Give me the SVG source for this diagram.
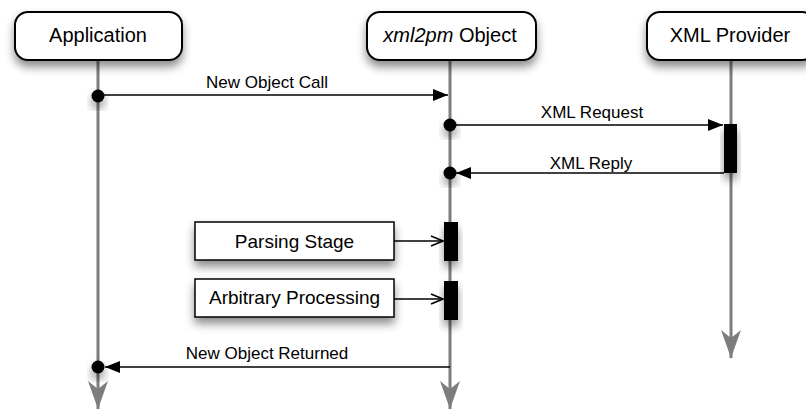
<svg xmlns="http://www.w3.org/2000/svg" width="806" height="410" viewBox="0 0 806 410">
<defs>
<filter id="sh" x="-30%" y="-40%" width="160%" height="200%">
<feDropShadow dx="0" dy="6" stdDeviation="5" flood-color="#000" flood-opacity="0.45"/>
</filter>
<marker id="fa" markerUnits="userSpaceOnUse" markerWidth="16" markerHeight="12" refX="15" refY="6" orient="auto">
<path d="M0,0 L15,6 L0,12 z" fill="#000"/>
</marker>
<marker id="oa" markerUnits="userSpaceOnUse" markerWidth="14" markerHeight="12" refX="13" refY="6" orient="auto">
<path d="M1,1 L13,6 L1,11" fill="none" stroke="#000" stroke-width="1.5"/>
</marker>
<marker id="la" markerUnits="userSpaceOnUse" markerWidth="29" markerHeight="22" refX="28" refY="11" orient="auto">
<path d="M0,1 L8,11 L0,21 L28,11 z" fill="#7d7d7d"/>
</marker>
</defs>
<style>
.hdr{fill:#fff;stroke:#000;stroke-width:2}
.box{fill:#fff;stroke:#000;stroke-width:1.5}
.life{stroke:#7d7d7d;stroke-width:3;fill:none}
.msg{stroke:#000;stroke-width:1.5;fill:none}
.t{font-family:"Liberation Sans",Arial,sans-serif;fill:#000;text-anchor:middle}
.h{font-size:20px}
.m{font-size:17px}
.b{font-size:19px}
.bar{fill:#000}
.dot{fill:#000}
</style>
<g id="lifelines">
<line class="life" x1="98" y1="60" x2="98" y2="409" marker-end="url(#la)"/>
<line class="life" x1="450" y1="60" x2="450" y2="409" marker-end="url(#la)"/>
<line class="life" x1="731" y1="60" x2="731" y2="358" marker-end="url(#la)"/>
</g>
<g id="application">
<rect class="hdr" x="15" y="12" width="167" height="48" rx="13" filter="url(#sh)"/>
<text class="t h" x="98" y="42">Application</text>
</g>
<g id="xml2pm">
<rect class="hdr" x="367" y="12" width="169" height="48" rx="13" filter="url(#sh)"/>
<text class="t h" x="450" y="42"><tspan font-style="italic">xml2pm</tspan> Object</text>
</g>
<g id="xmlprovider">
<rect class="hdr" x="647" y="12" width="168" height="48" rx="13" filter="url(#sh)"/>
<text class="t h" x="730" y="42">XML Provider</text>
</g>
<g id="parsing">
<rect class="box" x="195" y="222" width="199" height="38" filter="url(#sh)"/>
<text class="t b" x="294.5" y="248">Parsing Stage</text>
</g>
<g id="arbitrary">
<rect class="box" x="195" y="279" width="199" height="38" filter="url(#sh)"/>
<text class="t b" x="294.5" y="304">Arbitrary Processing</text>
</g>
<g id="activations">
<rect class="bar" x="724" y="124" width="13" height="49" filter="url(#sh)"/>
<rect class="bar" x="444" y="222" width="14" height="39" filter="url(#sh)"/>
<rect class="bar" x="444" y="281" width="14" height="39" filter="url(#sh)"/>
</g>
<g id="connectors">
<line class="msg" x1="98" y1="95" x2="448" y2="95" marker-end="url(#fa)"/>
<text class="t m" x="267" y="88">New Object Call</text>
<line class="msg" x1="450" y1="125" x2="723" y2="125" marker-end="url(#fa)"/>
<text class="t m" x="592" y="118">XML Request</text>
<line class="msg" x1="724" y1="173" x2="456" y2="173" marker-end="url(#fa)"/>
<text class="t m" x="591" y="169">XML Reply</text>
<line class="msg" x1="394" y1="241" x2="443" y2="241" marker-end="url(#oa)"/>
<line class="msg" x1="394" y1="299" x2="443" y2="299" marker-end="url(#oa)"/>
<line class="msg" x1="450" y1="367" x2="105" y2="367" marker-end="url(#fa)"/>
<text class="t m" x="267" y="359">New Object Returned</text>
<circle class="dot" cx="98" cy="96" r="6.5" filter="url(#sh)"/>
<circle class="dot" cx="450" cy="125" r="6.5" filter="url(#sh)"/>
<circle class="dot" cx="450" cy="173" r="6.5" filter="url(#sh)"/>
<circle class="dot" cx="98" cy="367" r="6.5" filter="url(#sh)"/>
</g>
</svg>
